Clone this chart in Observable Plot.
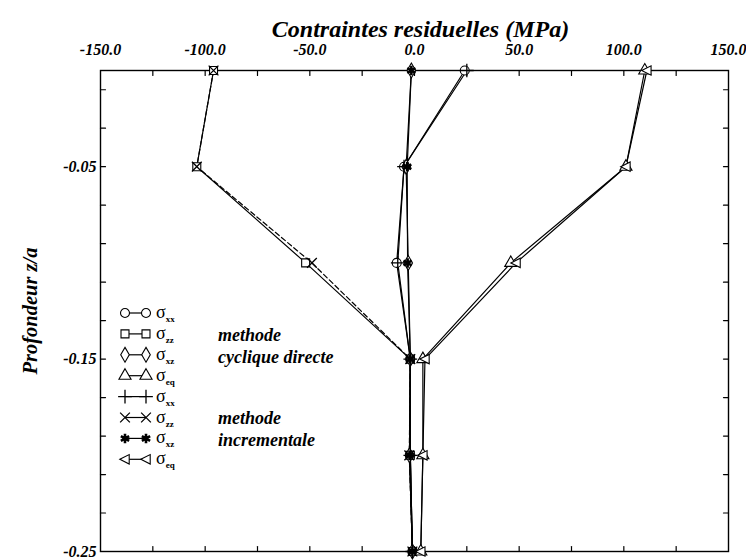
<!DOCTYPE html>
<html><head><meta charset="utf-8">
<script src="https://cdn.jsdelivr.net/npm/d3@7"></script>
<script src="https://cdn.jsdelivr.net/npm/@observablehq/plot@0.6"></script>
<style>
body{margin:0;background:#fff;}
#wrap{position:relative;width:746px;height:560px;}
#legend{position:absolute;left:0;top:0;pointer-events:none;}
</style></head><body><div id="wrap"></div>
<script>
// ---- data ----
const depth  = [0, -0.05, -0.10, -0.15, -0.20, -0.25];
// methode cyclique directe
const cycSxx = [24, -5, -8.5, -2, -2, -1];
const cycSzz = [-96, -104, -52, -2, -2, -1];
const cycSxz = [-1.5, -4, -3, -2, -2.4, -1];
const cycSeq = [110, 101, 46, 4, 4, 3];
// methode incrementale
const incSxx = [25, -5, -8, -2, -2, -1];
const incSzz = [-96, -104, -49, -2, -2.5, -1];
const incSxz = [-1.5, -3.5, -3.3, -2, -2.4, -1];
const incSeq = [111, 101, 48.5, 5, 4, 3];

const legendSubs = ["xx", "zz", "xz", "eq", "xx", "zz", "xz", "eq"];
const groupNotes = [["methode", "cyclique directe"], ["methode", "incrementale"]];
const xLabelTicks = [-150, -100, -50, 0, 50, 100, 150];
const xMinorTicks = [-125, -100, -75, -50, -25, 0, 25, 50, 75, 100, 125];
const yLabelTicks = [-0.05, -0.15, -0.25];
const yMinorTicks = [-0.01, -0.03, -0.05, -0.07, -0.09, -0.11, -0.13, -0.15, -0.17, -0.19, -0.21, -0.23];
const xTitle = "Contraintes residuelles (MPa)";
const yTitle = "Profondeur z/a";

// ---- symbols ----
const triLeft = {
  draw(ctx, size) {
    const s = Math.sqrt(size) * 0.62;
    ctx.moveTo(-s * 1.05, 0);
    ctx.lineTo(s * 0.85, -s * 0.95);
    ctx.lineTo(s * 0.85, s * 0.95);
    ctx.closePath();
  }
};
const tickShape = {draw(ctx, l) { ctx.moveTo(0, 0); ctx.lineTo(0, -l); }};
const series = [
  {vals: cycSxx, sym: "circle",   d3sym: d3.symbolCircle,   fill: "white", sw: 1.1, dash: null},
  {vals: cycSzz, sym: "square",   d3sym: d3.symbolSquare,   fill: "white", sw: 1.1, dash: null},
  {vals: cycSxz, sym: "diamond",  d3sym: d3.symbolDiamond,  fill: "white", sw: 1.1, dash: null},
  {vals: cycSeq, sym: "triangle", d3sym: d3.symbolTriangle, fill: "white", sw: 1.1, dash: null},
  {vals: incSxx, sym: "plus",     d3sym: d3.symbolPlus,     fill: "none",  sw: 1.3, dash: null},
  {vals: incSzz, sym: "times",    d3sym: d3.symbolTimes,    fill: "none",  sw: 1.3, dash: "5,3"},
  {vals: incSxz, sym: "asterisk", d3sym: d3.symbolAsterisk, fill: "none",  sw: 2.6, dash: null},
  {vals: incSeq, sym: triLeft,    d3sym: triLeft,           fill: "white", sw: 1.1, dash: null}
];
const rowsOf = (s, i) => s.vals.map((v, j) => ({v, z: depth[j], k: i}));

const font = "'Liberation Serif', 'DejaVu Serif', serif";
const marks = [Plot.frame({stroke: "black", strokeWidth: 1.4})];
// inner minor ticks on all four sides
const tk = {length: 5, anchor: "start", shape: tickShape, stroke: "black", strokeWidth: 1.2};
marks.push(Plot.vector(xMinorTicks, {x: d => d, frameAnchor: "top", rotate: 180, ...tk}));
marks.push(Plot.vector(xMinorTicks, {x: d => d, frameAnchor: "bottom", rotate: 0, ...tk}));
marks.push(Plot.vector(yMinorTicks, {y: d => d, frameAnchor: "left", rotate: 90, ...tk}));
marks.push(Plot.vector(yMinorTicks, {y: d => d, frameAnchor: "right", rotate: -90, ...tk}));
// labels
marks.push(Plot.axisX(xLabelTicks, {anchor: "top", tickSize: 0, tickPadding: 16, tickFormat: d => d.toFixed(1), fontSize: 16, label: null}));
marks.push(Plot.axisY(yLabelTicks, {anchor: "left", tickSize: 0, tickPadding: 4, tickFormat: d => d.toFixed(2), fontSize: 16, label: null}));
marks.push(Plot.text([xTitle], {frameAnchor: "top", dy: -51, dx: 6, fontSize: 24, text: d => d}));
marks.push(Plot.text([yTitle], {frameAnchor: "left", dx: -70, rotate: -90, textAnchor: "middle", fontSize: 20.5, text: d => d}));

series.forEach((s, i) => {
  marks.push(Plot.line(rowsOf(s, i), {x: "v", y: "z", stroke: "black", strokeWidth: 1.2, strokeDasharray: s.dash}));
});
series.forEach((s, i) => {
  marks.push(Plot.dot(rowsOf(s, i), {x: "v", y: "z", symbol: s.sym, r: 4.5, fill: s.fill, stroke: "black", strokeWidth: s.sw}));
});

const chart = Plot.plot({
  width: 746, height: 560,
  marginLeft: 100, marginRight: 18, marginTop: 70, marginBottom: 9,
  x: {domain: [-150, 150]},
  y: {domain: [-0.25, 0]},
  style: {fontFamily: font, fontStyle: "italic", fontWeight: "bold", color: "black", background: "white", overflow: "visible"},
  marks
});
const wrap = document.getElementById("wrap");
wrap.appendChild(chart);

// ---- legend overlay ----
const lg = d3.select(wrap).append("svg").attr("id", "legend").attr("width", 746).attr("height", 560)
  .style("font-family", font);
const size = Math.PI * 4.5 * 4.5;
series.forEach((s, i) => {
  const y = 313 + i * 20.9;
  const g = lg.append("g");
  g.append("line").attr("x1", 125).attr("x2", 146).attr("y1", y).attr("y2", y).attr("stroke", "black").attr("stroke-width", 1.2);
  [125, 146].forEach(x => {
    g.append("path").attr("d", d3.symbol().type(s.d3sym).size(size)())
      .attr("transform", `translate(${x},${y})`)
      .attr("fill", s.fill).attr("stroke", "black").attr("stroke-width", s.sw);
  });
  const t = g.append("text").attr("x", 156).attr("y", y + 5).attr("font-size", 18);
  t.append("tspan").text("σ");
  t.append("tspan").attr("font-size", 9).attr("font-weight", "bold").attr("dy", 4).text(legendSubs[i]);
});
groupNotes.forEach((lines, gi) => {
  lines.forEach((txt, li) => {
    lg.append("text").attr("x", 218).attr("y", 341 + gi * 83 + li * 22)
      .attr("font-size", 18).attr("font-style", "italic").attr("font-weight", "bold").text(txt);
  });
});
</script></body></html>
